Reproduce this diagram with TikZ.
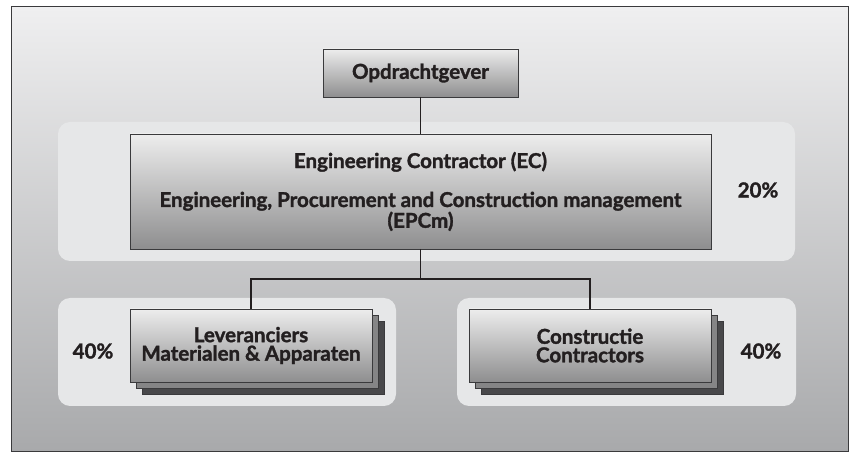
\documentclass[tikz,border=0pt]{standalone}
\usepackage{fontspec}
\setmainfont{Lato}[BoldFeatures={FakeBold=1.6}]
\definecolor{ink}{HTML}{231F20}
\definecolor{edge}{HTML}{3A3A3C}
\definecolor{panelgray}{HTML}{E6E7E8}
\definecolor{frametop}{HTML}{EFEFF0}
\definecolor{framebot}{HTML}{A8A9AB}
\definecolor{boxtop}{HTML}{EDEDED}
\definecolor{boxbot}{HTML}{8E8E8F}
\definecolor{midlayer}{HTML}{858586}
\definecolor{darklayer}{HTML}{48484A}
\begin{document}
\begin{tikzpicture}[x=1pt,y=-1pt,
  txt/.style={font=\bfseries\fontsize{20.5}{18.5}\selectfont, text=ink},
  panel/.style={fill=panelgray, rounded corners=12pt, inner sep=0pt, outer sep=0pt},
  orgbox/.style={draw=edge, line width=0.9pt, top color=boxtop, bottom color=boxbot,
    inner sep=0pt, outer sep=0pt, align=center, txt},
  layer/.style={draw=edge, line width=0.9pt, inner sep=0pt, outer sep=0pt},
  link/.style={draw=ink, line width=1.6pt},
  pct/.style={txt}
]
\useasboundingbox (0,0) rectangle (855,454);
% outer frame with vertical shading
\node[draw=edge, line width=1pt, top color=frametop, bottom color=framebot,
  minimum width=837pt, minimum height=445pt, inner sep=0pt] (frame) at (429.5,229.5) {};

% light panels behind the tiers
\node[panel, minimum width=737pt, minimum height=139pt] (ptop) at (426.5,191.5) {};
\node[panel, minimum width=338pt, minimum height=108pt] (pleft) at (227,352) {};
\node[panel, minimum width=339pt, minimum height=108pt] (pright) at (626.5,352) {};

% top client box
\node[orgbox, minimum width=195pt, minimum height=48pt] (op) at (420.5,73) {Opdrachtgever};

% engineering contractor box
\node[orgbox, minimum width=581pt, minimum height=115pt] (ec) at (420.5,191.5)
  {Engineering Contractor (EC)\\[19pt]Engineering, Procurement and Construction management\\(EPCm)};

% stacked supplier boxes (back to front)
\node[layer, fill=darklayer, minimum width=242pt, minimum height=73pt] (levC) at (263,357.5) {};
\node[layer, fill=midlayer, minimum width=242pt, minimum height=73pt] (levB) at (257,351.5) {};
\node[orgbox, minimum width=242pt, minimum height=73pt] (lev) at (251,345.5)
  {Leveranciers\\Materialen \& Apparaten};

% stacked construction contractor boxes
\node[layer, fill=darklayer, minimum width=242pt, minimum height=73pt] (conC) at (602,357.5) {};
\node[layer, fill=midlayer, minimum width=242pt, minimum height=73pt] (conB) at (596,351.5) {};
\node[orgbox, minimum width=242pt, minimum height=73pt] (con) at (590,345.5)
  {Constructie\\Contractors};

% share labels
\node[pct] (p20) at (758,190) {20\%};
\node[pct] (p40l) at (93,351) {40\%};
\node[pct] (p40r) at (761,351) {40\%};

% connectors
\coordinate (split) at (420.5,279);
\draw[link] (op.south) -- (ec.north);
\draw[link] (ec.south) -- (split);
\draw[link] (split) -| (lev.north);
\draw[link] (split) -| (con.north);
\end{tikzpicture}
\end{document}
